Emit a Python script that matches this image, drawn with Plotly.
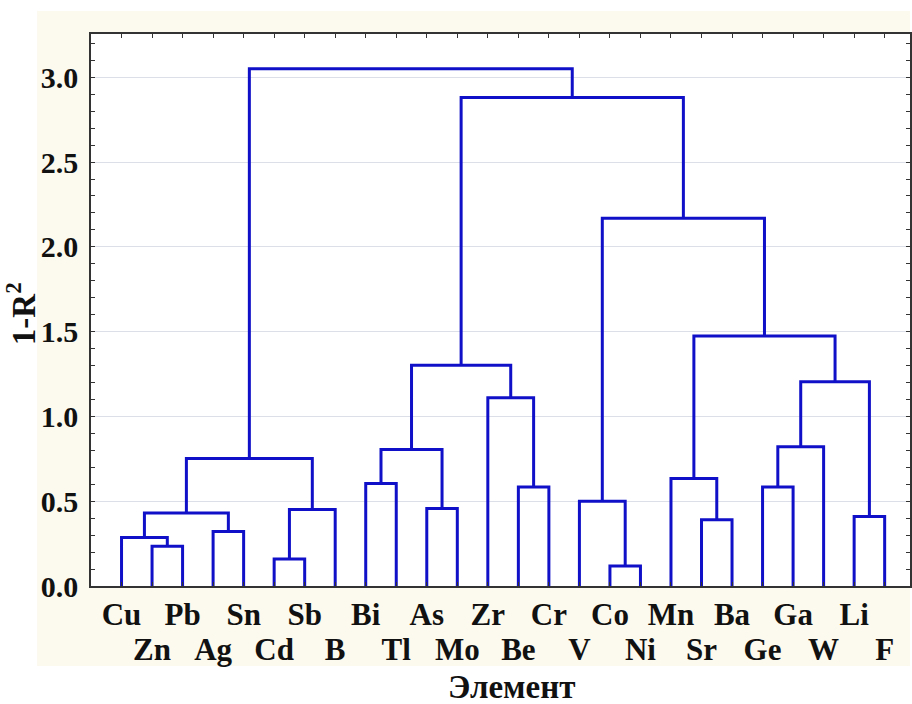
import plotly.graph_objects as go

# ---- data ----
leaves = ["Cu", "Zn", "Pb", "Ag", "Sn", "Cd", "Sb", "B", "Bi", "Tl", "As", "Mo", "Zr",
          "Be", "Cr", "V", "Co", "Ni", "Mn", "Sr", "Ba", "Ge", "Ga", "W", "Li", "F"]
# merges (scipy-like ids: 0..25 leaves, 26.. new clusters in order)
merge_left = [1, 0, 3, 27, 5, 30, 29, 8, 10, 33, 13, 12, 35, 16, 15, 19, 18, 21, 43, 24, 44, 42, 40, 38, 32]
merge_right = [2, 26, 4, 28, 6, 7, 31, 9, 11, 34, 14, 36, 37, 17, 39, 20, 41, 22, 23, 25, 45, 46, 47, 48, 49]
merge_height = [0.234, 0.286, 0.321, 0.431, 0.159, 0.451, 0.752, 0.605, 0.457, 0.805,
                0.584, 1.110, 1.301, 0.118, 0.500, 0.390, 0.634, 0.584, 0.821, 0.410,
                1.204, 1.474, 2.169, 2.881, 3.050]

y_ticks = [0.0, 0.5, 1.0, 1.5, 2.0, 2.5, 3.0]

# ---- build dendrogram paths ----
n = len(leaves)
pos = {i: float(i + 1) for i in range(n)}
hgt = {i: 0.0 for i in range(n)}
xs, ys = [], []
for k, (a, b, h) in enumerate(zip(merge_left, merge_right, merge_height)):
    xa, xb = pos[a], pos[b]
    xs += [xa, xa, xb, xb, None]
    ys += [hgt[a], h, h, hgt[b], None]
    cid = n + k
    pos[cid] = (xa + xb) / 2
    hgt[cid] = h

top_vals = [i + 1 for i in range(0, n, 2)]
top_text = [leaves[i] for i in range(0, n, 2)]
bot_vals = [i + 1 for i in range(1, n, 2)]
bot_text = [leaves[i] for i in range(1, n, 2)]

BLUE = "#1010c8"
fig = go.Figure()
fig.add_trace(go.Scatter(x=xs, y=ys, mode="lines",
                         line=dict(color=BLUE, width=3), hoverinfo="skip",
                         showlegend=False))
# invisible helper so the second x axis (lower row of labels) is drawn
fig.add_trace(go.Scatter(x=[pos[0]], y=[0], mode="markers", xaxis="x2",
                         marker=dict(opacity=0), hoverinfo="skip", showlegend=False))

W, H = 912, 704
ml, mr, mt, mb = 91, 0, 34, 118
step = 30.6
xmax = (W - ml - mr) / step

font_family = "Liberation Serif, Times New Roman, serif"
TITLE_SIZE = 33
xtickfont = dict(size=31, family=font_family, color="#111111", weight="bold")
ytickfont = dict(size=30, family=font_family, color="#111111", weight="bold")

fig.update_layout(
    width=W, height=H,
    margin=dict(l=ml, r=mr, t=mt, b=mb, pad=0),
    paper_bgcolor="white",
    plot_bgcolor="white",
    font=dict(family=font_family, color="#111111", size=28),
    shapes=[
        dict(type="rect", xref="paper", yref="paper", layer="below",
             x0=(37 - ml) / (W - ml - mr), x1=1.0,
             y0=-(666 - (H - mb)) / (H - mb - mt), y1=1 + (mt - 11) / (H - mb - mt),
             fillcolor="#fcf9ee", line=dict(width=0)),
        dict(type="rect", xref="paper", yref="paper", layer="below",
             x0=0, x1=1, y0=0, y1=1, fillcolor="white", line=dict(width=0)),
    ],
    annotations=[
        dict(text="<b>Элемент</b>", xref="paper", yref="paper",
             x=(513 - ml) / (W - ml - mr), y=-(687 - (H - mb)) / (H - mb - mt),
             showarrow=False, xanchor="center", yanchor="middle",
             font=dict(size=TITLE_SIZE, family=font_family, color="#111111")),
        dict(text="<b>1-R<sup>2</sup></b>", xref="paper", yref="paper",
             x=-(ml - 21) / (W - ml - mr), y=((H - mb) - 314) / (H - mb - mt),
             showarrow=False, xanchor="center", yanchor="middle", textangle=-90,
             font=dict(size=TITLE_SIZE, family=font_family, color="#111111")),
    ],
    xaxis2=dict(overlaying="x", matches="x", anchor="y", side="bottom",
                tickmode="array", tickvals=bot_vals, ticktext=bot_text,
                ticks="", showline=False, showgrid=False, zeroline=False,
                tickfont=xtickfont, tickangle=0, ticklabelstandoff=42),
)

fig.layout.xaxis.update(
    range=[0, xmax], tickmode="array", tickvals=top_vals, ticktext=top_text,
    ticks="inside", ticklen=4, tickcolor="#333333", mirror="ticks",
    showline=True, linecolor="#333333", linewidth=1.5,
    showgrid=False, zeroline=False,
    tickfont=xtickfont, tickangle=0,
    minor=dict(tickvals=bot_vals, ticks="inside", ticklen=4, tickcolor="#333333", showgrid=False),
)
fig.layout.xaxis2.update(range=[0, xmax])
fig.update_yaxes(
    range=[0, 3.255], tickmode="array", tickvals=y_ticks,
    ticktext=[f"{v:.1f}" for v in y_ticks],
    ticks="inside", ticklen=4, tickcolor="#333333", mirror="ticks",
    showline=True, linecolor="#333333", linewidth=1.5,
    showgrid=True, gridcolor="#dcdfe8", gridwidth=1,
    zeroline=False,
    minor=dict(dtick=0.1, ticks="inside", ticklen=4, tickcolor="#333333", showgrid=False),
    tickfont=ytickfont,
    ticklabelstandoff=5,
)

fig.write_html("out.html")
